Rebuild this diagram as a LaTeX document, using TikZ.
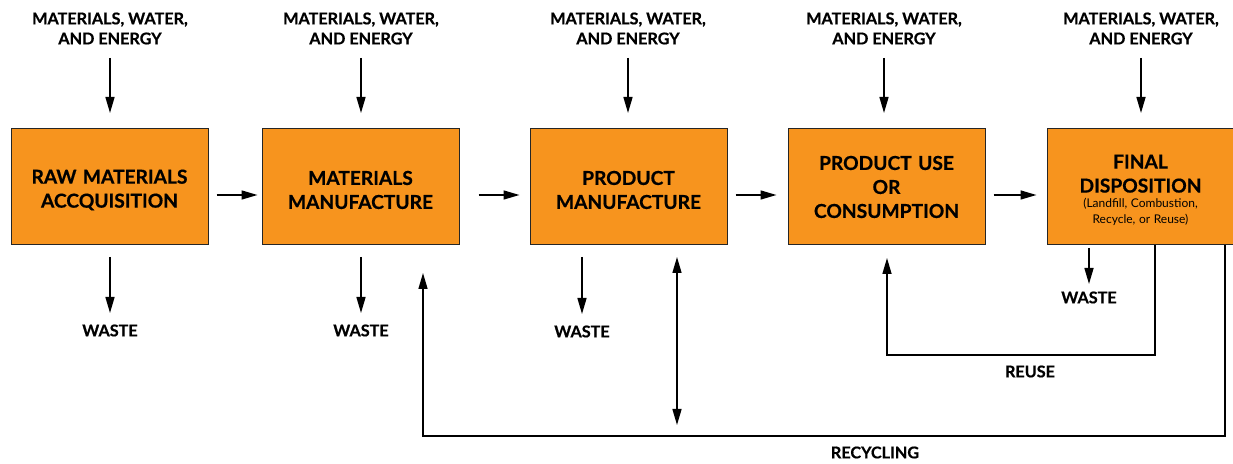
\documentclass[tikz,border=0pt]{standalone}
\usepackage{fontspec}
\setmainfont{Lato}[BoldFeatures={FakeBold=0.6}]
\usetikzlibrary{arrows.meta,calc}
\definecolor{boxorange}{HTML}{F7941E}
\newcommand\smallf{\mdseries\fontsize{6}{7.7}\selectfont\spaceskip=0.3em\relax}
\frenchspacing
\begin{document}
\begin{tikzpicture}[x=0.5pt,y=-0.5pt,
  stagebox/.style={draw=black!85, line width=0.5pt, fill=boxorange, minimum width=98.5pt, minimum height=58pt,
    text width=95pt, align=center, font=\bfseries\fontsize{9.6}{12}\selectfont, inner sep=0pt},
  box/.style={stagebox, execute at begin node={\rule{0pt}{10pt}}},
  lbl/.style={align=center, font=\bfseries\fontsize{8.1}{10}\selectfont, inner sep=0pt},
  arr/.style={line width=0.75pt, -{Triangle[length=8pt,width=4.5pt]}},
  dbl/.style={line width=0.75pt, {Triangle[length=8pt,width=4.5pt]}-{Triangle[length=8pt,width=4.5pt]}}]
\useasboundingbox (0,0) rectangle (1233,464);
% boxes
\node[box] (b1) at (109.5,187) {RAW MATERIALS\\ACCQUISITION};
\node[box] (b2) at (360.5,187) {MATERIALS\\MANUFACTURE};
\node[box] (b3) at (628.5,187) {PRODUCT\\MANUFACTURE};
\node[stagebox] (b4) at (886.5,187) {PRODUCT USE\\OR\\CONSUMPTION};
\node[box, minimum width=93.5pt, text width=92pt] (b5) at (1140.5,187)
  {FINAL\\DISPOSITION\par{\smallf (Landfill, Combustion,\\Recycle, or Reuse)\par}};
% input labels
\node[lbl] (i1) at (110,28.5) {MATERIALS, WATER,\\AND ENERGY};
\node[lbl] (i2) at (361,28.5) {MATERIALS, WATER,\\AND ENERGY};
\node[lbl] (i3) at (628,28.5) {MATERIALS, WATER,\\AND ENERGY};
\node[lbl] (i4) at (884,28.5) {MATERIALS, WATER,\\AND ENERGY};
\node[lbl] (i5) at (1141,28.5) {MATERIALS, WATER,\\AND ENERGY};
% waste labels
\node[lbl] (w1) at (110,330.5) {WASTE};
\node[lbl] (w2) at (361,330.5) {WASTE};
\node[lbl] (w3) at (582,331.5) {WASTE};
\node[lbl] (w5) at (1089,297.5) {WASTE};
\node[lbl] (reuse) at (1030,371.5) {REUSE};
\node[lbl] (recyc) at (875,452.5) {RECYCLING};
% input arrows
\foreach \i in {1,...,5} {
  \draw[arr] (i\i |- 0,58) -- (i\i |- 0,113);
}
% flow arrows
\draw[arr] ([xshift=4pt,yshift=-4pt]b1.east) -- ([xshift=-2pt,yshift=-4pt]b2.west);
\draw[arr] ([xshift=9.5pt,yshift=-4pt]b2.east) -- ([xshift=-5pt,yshift=-4pt]b3.west);
\draw[arr] ([xshift=4pt,yshift=-4pt]b3.east) -- ([xshift=-5.5pt,yshift=-4pt]b4.west);
\draw[arr] ([xshift=4pt,yshift=-4pt]b4.east) -- ([xshift=-5pt,yshift=-4pt]b5.west);
% waste arrows
\draw[arr] (w1 |- 0,257) -- (w1 |- 0,313);
\draw[arr] (w2 |- 0,257) -- (w2 |- 0,313);
\draw[arr] (w3 |- 0,257) -- (w3 |- 0,314);
\draw[arr] (w5 |- 0,248) -- (w5 |- 0,284);
% double arrow
\coordinate (d1) at (677,257);
\coordinate (d2) at (677,425);
\draw[dbl] (d1) -- (d2);
% reuse loop
\coordinate (ru) at (887,355);
\draw[arr] ([xshift=7.3pt]b5.south) |- (ru) -- (ru |- 0,258);
% recycling loop
\coordinate (rc) at (423,436);
\draw[arr] ([xshift=42.3pt]b5.south) |- (rc) -- (rc |- 0,273);
\end{tikzpicture}
\end{document}
